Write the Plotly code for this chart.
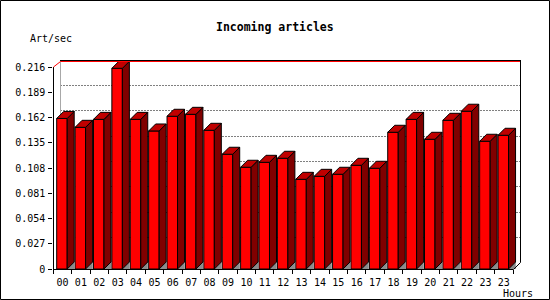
import plotly.graph_objects as go
import numpy as np

# ---------------- data ----------------
hours = ["00", "01", "02", "03", "04", "05", "06", "07", "08", "09", "10", "11",
         "12", "13", "14", "15", "16", "17", "18", "19", "20", "21", "22", "23", "23"]
rate = [0.161, 0.1515, 0.160, 0.2146, 0.160, 0.1476, 0.1633, 0.1654, 0.1483,
        0.1227, 0.1088, 0.1141, 0.1184, 0.0959, 0.0991, 0.1013, 0.1109, 0.1077,
        0.1462, 0.160, 0.1387, 0.159, 0.1687, 0.1366, 0.143]
y_ticks = [0, 0.027, 0.054, 0.081, 0.108, 0.135, 0.162, 0.189, 0.216]
y_labels = ["0" if v == 0 else f"{v:.3f}" for v in y_ticks]

title = "Incoming articles"
y_title = "Art/sec"
x_title = "Hours"

# ---------------- geometry (pixels) ----------------
FW, FH = 550, 300
X0 = 53.3          # front-left x of plot
SLOT = 18.39       # width of one hour slot
BASE = 269         # pixel row of value 0 (front)
KPX = 202 / 0.216  # pixels per unit
DEPTH = 7          # 3D depth offset in px
FONT = "DejaVu Sans Mono"

n = len(rate)
dxu = DEPTH / SLOT
dyv = DEPTH / KPX
ymax = y_ticks[-1]
xr = [0, n + dxu]
yr = [0, ymax + dyv]
xdom = [X0 / FW, (X0 + (n + dxu) * SLOT) / FW]
ytop_px = BASE - (ymax + dyv) * KPX
ydom = [(FH - BASE) / FH, (FH - ytop_px) / FH]


def px(x):
    return x / FW


def py(y):
    return (FH - y) / FH


def ux(u):  # data x -> pixel
    return X0 + u * SLOT


def vy(v):  # data y -> pixel
    return BASE - v * KPX


# bar front geometry in data units
bw = 10.5 / SLOT
xc = np.arange(n) + (3.4 + 5.25) / SLOT
left = xc - bw / 2
right = xc + bw / 2

side_x, side_y, top_x, top_y, tri_x, tri_y = [], [], [], [], [], []
for l, r, v in zip(left, right, rate):
    side_x += [r, r + dxu, r + dxu, r, r, None]
    side_y += [0, dyv, v + dyv, v, 0, None]
    top_x += [l, l + dxu, r + dxu, r, l, None]
    top_y += [v, v + dyv, v + dyv, v, v, None]
    tri_x += [r, r + dxu, r + dxu, r, None]
    tri_y += [0, dyv, 0, 0, None]

fig = go.Figure()
fig.add_trace(go.Bar(x=xc, y=rate, width=bw,
                     marker=dict(color="#ff0000", line=dict(color="black", width=1)),
                     hoverinfo="skip", showlegend=False))
fig.add_trace(go.Scatter(x=tri_x, y=tri_y, mode="lines", fill="toself",
                         fillcolor="#8c8c8c", line=dict(color="#8c8c8c", width=0.5),
                         hoverinfo="skip", showlegend=False))
fig.add_trace(go.Scatter(x=side_x, y=side_y, mode="lines", fill="toself",
                         fillcolor="#800000", line=dict(color="black", width=1),
                         hoverinfo="skip", showlegend=False))
fig.add_trace(go.Scatter(x=top_x, y=top_y, mode="lines", fill="toself",
                         fillcolor="#c00000", line=dict(color="black", width=1),
                         hoverinfo="skip", showlegend=False))

shapes = []


def pline(x0, y0, x1, y1, color="black", w=1, dash="solid", layer="above"):
    shapes.append(dict(type="line", xref="paper", yref="paper", layer=layer,
                       x0=px(x0), y0=py(y0), x1=px(x1), y1=py(y1),
                       line=dict(color=color, width=w, dash=dash)))


fx0, fx1 = ux(0), ux(n)
bx0, bx1 = ux(dxu), ux(n + dxu)
fy0, fytop = vy(0), vy(ymax)
by0, bytop = vy(dyv), vy(ymax + dyv)
colL = round(fx0) + 0.5       # front-left axis column centre
colBL = round(bx0) + 0.5      # back-left edge column centre
colR = round(bx1) + 0.5       # back-right edge column centre
rowB = round(fy0) + 0.5       # front floor row centre
rowTop = round(bytop) + 0.5   # top edge row centre

# back-wall dotted gridlines (under the bars)
for v in y_ticks[1:-1]:
    r = round(vy(v + dyv)) + 0.5
    pline(colBL, r, colR, r, "black", 1, "1px,2px", "below")
# back-left edge (under the bars)
pline(colBL, round(by0), colBL, rowTop, "#a8a8a8", 1, "solid", "below")
# front left axis
pline(colL, rowB, colL, round(fytop))
# red top edge
pline(colL, round(fytop), colBL, rowTop + 1, "#ff0000")
pline(colBL, rowTop + 1, colR - 0.5, rowTop + 1, "#ff0000")
# black top edge
pline(colBL - 0.5, rowTop, colR + 0.5, rowTop)
# right back edge
pline(colR, rowTop, colR, round(by0) + 0.5)
# floor front and right diagonal
pline(colL - 0.5, rowB, round(fx1) + 0.5, rowB)
pline(round(fx1) + 0.5, rowB, colR, round(by0) + 0.5)
# outer border
shapes.append(dict(type="rect", xref="paper", yref="paper",
                   x0=px(0.5), y0=py(299.5), x1=px(549.5), y1=py(0.5),
                   line=dict(color="black", width=1)))

annotations = [
    dict(text=f"<b>{title}</b>", xref="paper", yref="paper", x=px(275), y=py(27),
         xanchor="center", yanchor="middle", showarrow=False,
         font=dict(family=FONT, size=11.5, color="black")),
    dict(text=y_title, xref="paper", yref="paper", x=px(28), y=py(38),
         xanchor="left", yanchor="middle", showarrow=False,
         font=dict(family=FONT, size=10, color="black")),
    dict(text=x_title, xref="paper", yref="paper", x=px(535), y=py(293),
         xanchor="right", yanchor="middle", showarrow=False,
         font=dict(family=FONT, size=10, color="black")),
]

fig.update_layout(
    width=FW, height=FH, autosize=False, margin=dict(l=0, r=0, t=0, b=0, pad=0),
    paper_bgcolor="white", plot_bgcolor="rgba(0,0,0,0)",
    showlegend=False, shapes=shapes, annotations=annotations,
    xaxis=dict(range=xr, domain=xdom, showgrid=False, zeroline=False, showline=False,
               tickmode="array", tickvals=list(np.arange(n) + 0.5), ticktext=hours,
               ticks="outside", ticklen=4, tickcolor="rgba(0,0,0,0)",
               tickfont=dict(family=FONT, size=10, color="black"),
               minor=dict(tickmode="array", tickvals=list(range(n + 1)),
                          ticks="outside", ticklen=4, tickcolor="black", showgrid=False),
               fixedrange=True, automargin=False),
    yaxis=dict(range=yr, domain=ydom, showgrid=False, zeroline=False, showline=False,
               tickmode="array", tickvals=y_ticks, ticktext=y_labels,
               ticks="outside", ticklen=4, tickcolor="black", ticklabelstandoff=1,
               tickfont=dict(family=FONT, size=10, color="black"), fixedrange=True,
               automargin=False),
    yaxis2=dict(range=[-dyv, ymax], overlaying="y", side="right", anchor="x",
                showgrid=False, zeroline=False, showline=False,
                tickmode="array", tickvals=y_ticks, showticklabels=False,
                ticks="outside", ticklen=3, tickcolor="black", fixedrange=True,
                automargin=False),
)

fig.write_html("out.html", config={"responsive": False, "displayModeBar": False})
